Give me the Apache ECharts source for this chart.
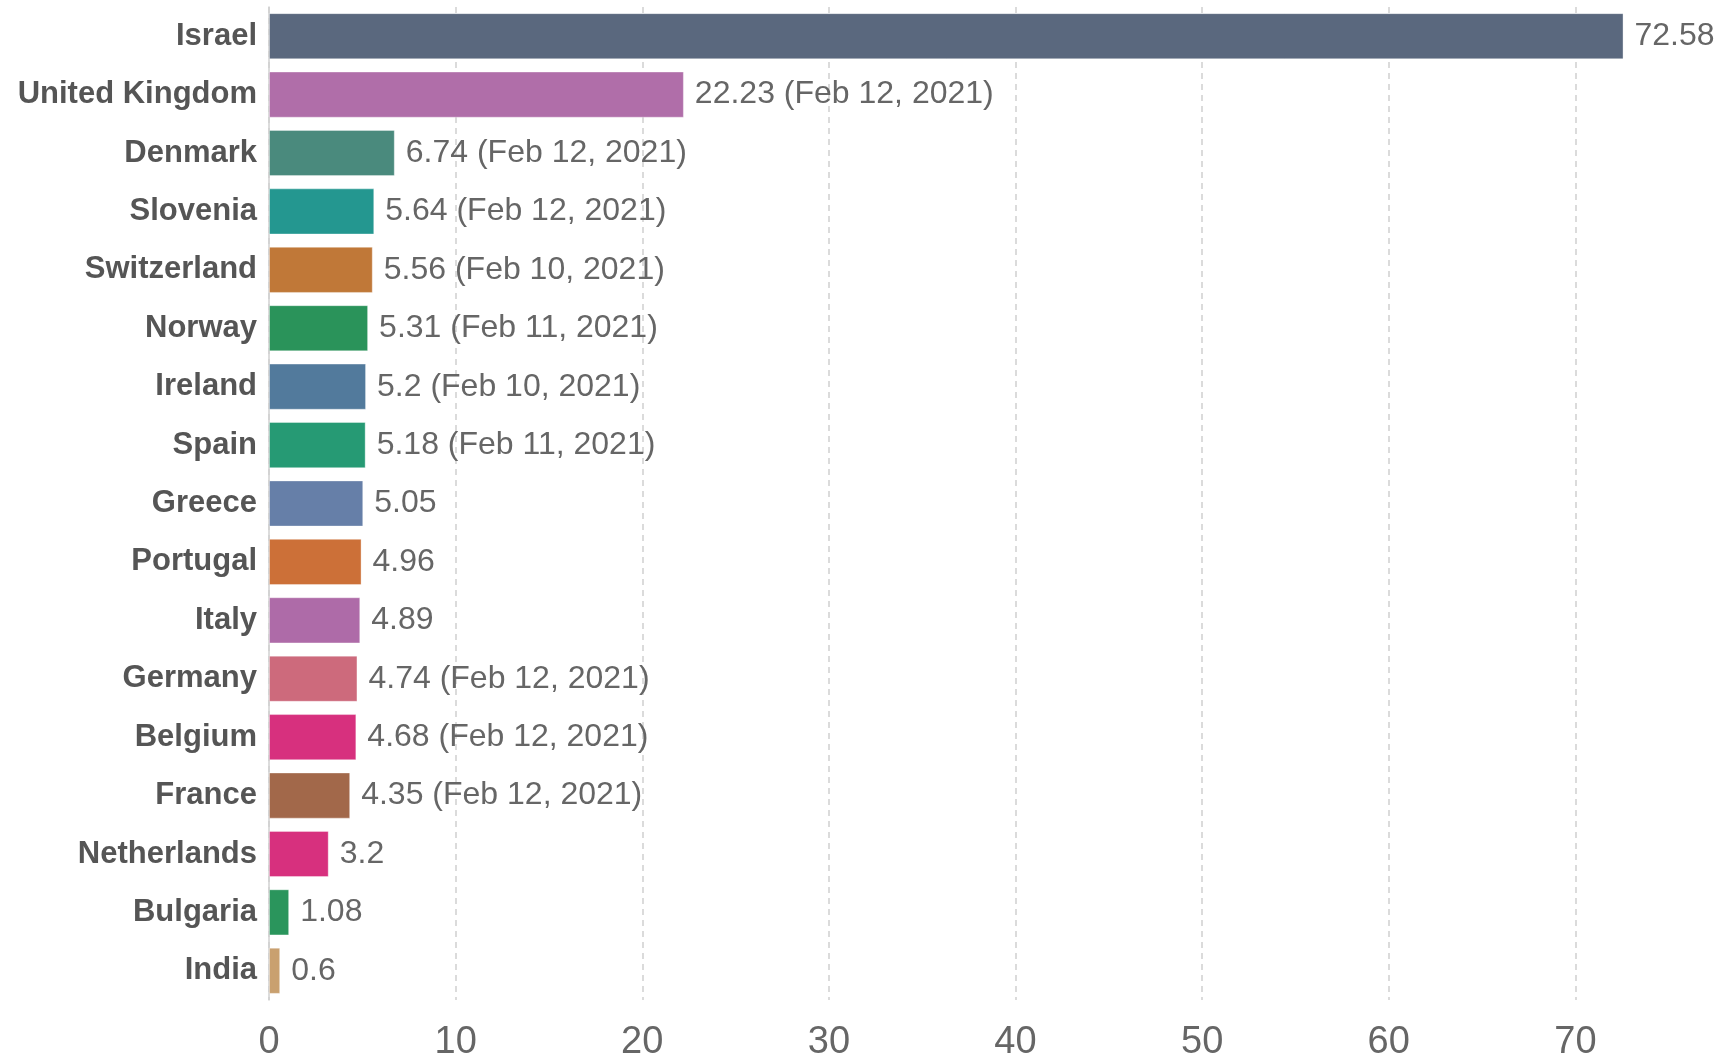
<!DOCTYPE html>
<html>
<head>
<meta charset="utf-8">
<script src="https://cdn.jsdelivr.net/npm/echarts@6/dist/echarts.min.js"></script>
<style>
html,body{margin:0;padding:0;background:#fff;}
#chart{width:1716px;height:1057px;}
</style>
</head>
<body>
<div id="chart"></div>
<script>
const countries = ["Israel","United Kingdom","Denmark","Slovenia","Switzerland","Norway","Ireland","Spain","Greece","Portugal","Italy","Germany","Belgium","France","Netherlands","Bulgaria","India"];
const values = [72.58,22.23,6.74,5.64,5.56,5.31,5.2,5.18,5.05,4.96,4.89,4.74,4.68,4.35,3.2,1.08,0.6];
const dates = ["","Feb 12, 2021","Feb 12, 2021","Feb 12, 2021","Feb 10, 2021","Feb 11, 2021","Feb 10, 2021","Feb 11, 2021","","","","Feb 12, 2021","Feb 12, 2021","Feb 12, 2021","","",""];
const colors = ["#5a687e","#b06ea9","#4a8a7d","#249790","#c07838","#2a935a","#527a9c","#269a74","#667fa8","#cc7038","#ae6ba8","#cd6a7c","#d7307e","#a2684a","#d7307e","#2a955c","#c9a06f"];
const xTicks = {min: 0, max: 80, interval: 10};

const FONT = '"Liberation Sans", Arial, sans-serif';
const chart = echarts.init(document.getElementById('chart'));
chart.setOption({
  animation: false,
  backgroundColor: '#fff',
  grid: {left: 269, top: 7, bottom: 57, width: 1493, containLabel: false, outerBoundsMode: 'none'},
  xAxis: {
    type: 'value',
    min: xTicks.min, max: xTicks.max, interval: xTicks.interval,
    axisLine: {show: false},
    axisTick: {show: false},
    axisLabel: {fontFamily: FONT, fontSize: 38, color: '#666', margin: 24, showMaxLabel: false},
    splitLine: {show: true, lineStyle: {color: '#cfcfcf', type: [6, 5], width: 1.5}}
  },
  yAxis: {
    type: 'category',
    data: countries,
    inverse: true,
    axisLine: {show: true, lineStyle: {color: '#d0d0d0', width: 1.5}},
    axisTick: {show: false},
    axisLabel: {fontFamily: FONT, fontSize: 31, fontWeight: 'bold', color: '#555', margin: 12}
  },
  series: [{
    type: 'bar',
    data: values.map((v, i) => ({value: v, itemStyle: {color: colors[i]}})),
    barCategoryGap: '21%',
    itemStyle: {borderColor: 'rgba(255,255,255,0.35)', borderWidth: 1},
    label: {
      show: true,
      position: 'right',
      distance: 11,
      fontFamily: FONT,
      fontSize: 32,
      color: '#666',
      formatter: p => p.value + (dates[p.dataIndex] ? ' (' + dates[p.dataIndex] + ')' : '')
    }
  }]
});
</script>
</body>
</html>
